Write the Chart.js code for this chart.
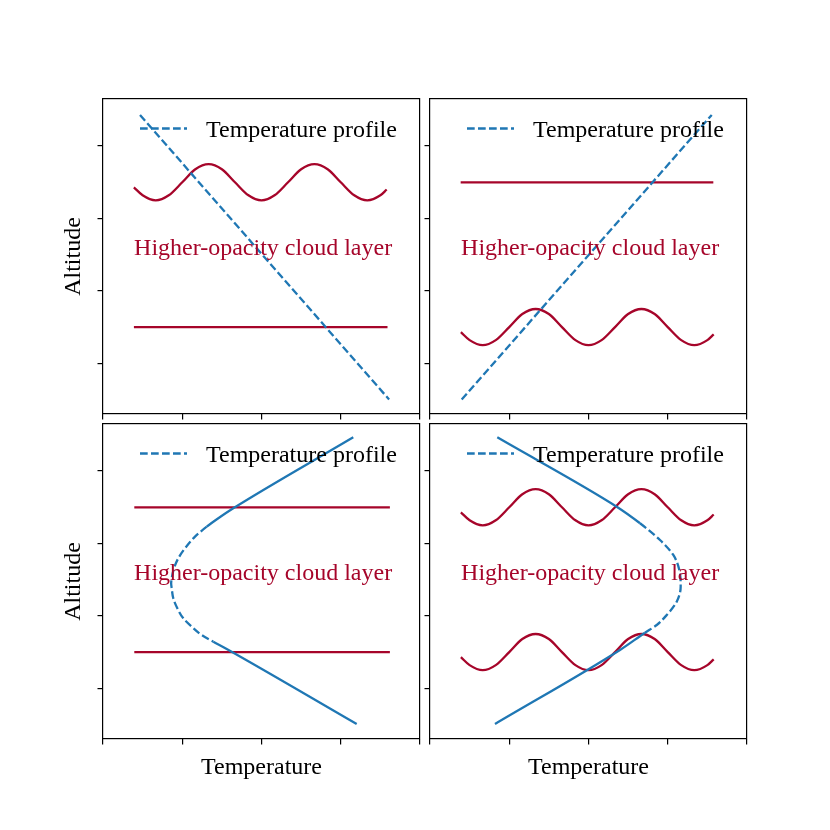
<!DOCTYPE html>
<html><head><meta charset="utf-8">
<script src="https://cdn.jsdelivr.net/npm/chart.js@4.4.1/dist/chart.umd.min.js"></script>
<style>
html,body{margin:0;padding:0;background:#fff;}
#wrap{position:relative;width:830px;height:830px;background:#fff;}
canvas{position:absolute;left:0;top:0;}
</style></head><body><div id="wrap">
<canvas id="c1" width="830" height="830"></canvas>
<canvas id="c2" width="830" height="830"></canvas>
<canvas id="c3" width="830" height="830"></canvas>
<canvas id="c4" width="830" height="830"></canvas>
</div>
<script>
// ---- data ----
const xTicks = [0, 1, 2, 3, 4];
const yTicks = [1, 2, 3, 4];
const xRange = [0, 4];
const yRange = [0.3, 4.65];

const cloudWaveX = [0.39, 0.50, 0.665, 0.83, 1.00, 1.165, 1.333, 1.50, 1.665, 1.835, 2.00, 2.165, 2.335, 2.50, 2.668, 2.835, 3.00, 3.17, 3.335, 3.50, 3.58];
const waveHighY  = [3.43, 3.32, 3.25, 3.32, 3.50, 3.68, 3.75, 3.68, 3.50, 3.32, 3.25, 3.32, 3.50, 3.68, 3.75, 3.68, 3.50, 3.32, 3.25, 3.32, 3.40];
const waveLowY   = [1.43, 1.32, 1.25, 1.32, 1.50, 1.68, 1.75, 1.68, 1.50, 1.32, 1.25, 1.32, 1.50, 1.68, 1.75, 1.68, 1.50, 1.32, 1.25, 1.32, 1.40];

const p1FlatX = [0.39, 3.59];   const p1FlatY = [1.5, 1.5];
const p2FlatX = [0.387, 3.575]; const p2FlatY = [3.5, 3.5];
const p3FlatX = [0.395, 3.62];  const p3FlatHighY = [3.5, 3.5]; const p3FlatLowY = [1.5, 1.5];

const p1ProfX = [0.467, 3.61]; const p1ProfY = [4.43, 0.50];
const p2ProfX = [0.40, 3.555]; const p2ProfY = [0.50, 4.43];
const p3ProfX = [3.158, 1.644, 1.455, 1.309, 1.161, 1.035, 0.950, 0.896, 0.867, 0.860, 0.867, 0.887, 0.938, 1.013, 1.119, 1.245, 1.392, 1.561, 3.201];
const p3ProfY = [4.466, 3.486, 3.348, 3.232, 3.094, 2.934, 2.796, 2.657, 2.519, 2.450, 2.381, 2.243, 2.105, 1.967, 1.851, 1.736, 1.644, 1.543, 0.507];
const p3Core = [1.64, 3.24];   // altitude span drawn dashed
const p4ProfX = [0.849, 2.356, 2.650, 2.902, 3.070, 3.146, 3.163, 3.113, 2.987, 2.861, 2.713, 2.397, 0.820];
const p4ProfY = [4.466, 3.508, 3.279, 3.048, 2.841, 2.634, 2.403, 2.196, 2.012, 1.874, 1.768, 1.529, 0.507];
const p4Core = [1.76, 3.28];

const cloudLabel = 'Higher-opacity cloud layer';
const cloudLabelPos = [2.02, 2.5];
const profileLabel = 'Temperature profile';

// ---- styles ----
const FONT = '"Liberation Serif", "Times New Roman", serif';
const RED = '#a6052a';
const BLUE = '#1f77b4';
const DASH = [7.7, 3.3];
const LW = 2.3;
Chart.defaults.font.family = FONT;

const pts = (xs, ys) => xs.map((x, i) => ({x: x, y: ys[i]}));

function redSet(xs, ys, wave) {
  return {data: pts(xs, ys), borderColor: RED, borderWidth: LW, pointRadius: 0,
    cubicInterpolationMode: wave ? 'monotone' : 'default', tension: 0};
}
function profSet(xs, ys, core) {
  const ds = {label: profileLabel, isProfile: true, data: pts(xs, ys), borderColor: BLUE,
    borderWidth: LW, pointRadius: 0, borderCapStyle: 'butt'};
  if (!core) { ds.borderDash = DASH; ds.tension = 0; }
  else {
    ds.indexAxis = 'y';
    ds.cubicInterpolationMode = 'monotone';
    ds.segment = {borderDash: c => {
      const a = c.p0.parsed.y, b = c.p1.parsed.y;
      return (Math.min(a, b) >= core[0] - 1e-6 && Math.max(a, b) <= core[1] + 1e-6) ? DASH : undefined;
    }};
  }
  return ds;
}

const align = (p, w) => Math.round(p - w / 2) + w / 2;

const decor = {
  id: 'panelDecor',
  afterDatasetsDraw(chart) {
    const {ctx, chartArea: a, scales: {x, y}} = chart;
    ctx.save();
    ctx.font = '24px ' + FONT;
    ctx.fillStyle = RED; ctx.textAlign = 'center'; ctx.textBaseline = 'alphabetic';
    ctx.fillText(cloudLabel, x.getPixelForValue(cloudLabelPos[0]), y.getPixelForValue(cloudLabelPos[1]));
    const prof = chart.data.datasets.find(d => d.isProfile);
    ctx.strokeStyle = prof.borderColor; ctx.lineWidth = prof.borderWidth; ctx.setLineDash(DASH);
    ctx.beginPath(); ctx.moveTo(a.left + 37, a.top + 29.5); ctx.lineTo(a.left + 84, a.top + 29.5); ctx.stroke();
    ctx.setLineDash([]);
    ctx.fillStyle = '#000'; ctx.textAlign = 'left';
    ctx.fillText(prof.label, a.left + 103, a.top + 37.5);
    const fw = 1.2;
    ctx.strokeStyle = '#000'; ctx.lineWidth = fw;
    const l = align(a.left, fw), r = align(a.right, fw), t = align(a.top, fw), b = align(a.bottom, fw);
    ctx.strokeRect(l, t, r - l, b - t);
    ctx.restore();
  }
};

function makeChart(id, box, datasets, yTitle, xTitle) {
  const yW = yTitle ? box.l - 55 : 10;
  const xH = xTitle ? 47 : 10;
  const axisCommon = {
    type: 'linear',
    ticks: {display: false},
    grid: {drawOnChartArea: false, drawTicks: true, tickLength: 5.5, color: '#000', lineWidth: 1.2},
    border: {display: false}
  };
  return new Chart(document.getElementById(id), {
    type: 'line',
    data: {datasets: datasets},
    options: {
      responsive: false, animation: false, events: [],
      layout: {autoPadding: false, padding: {left: box.l - yW, top: box.t, right: 830 - box.r, bottom: 830 - box.b - xH}},
      plugins: {legend: {display: false}, tooltip: {enabled: false}},
      scales: {
        x: Object.assign({}, axisCommon, {
          min: xRange[0], max: xRange[1],
          afterBuildTicks: s => { s.ticks = xTicks.map(v => ({value: v})); },
          afterFit: s => { s.height = xH; },
          title: {display: xTitle, text: 'Temperature', color: '#000', font: {family: FONT, size: 24}, padding: {top: 4, bottom: 4}}
        }),
        y: Object.assign({}, axisCommon, {
          min: yRange[0], max: yRange[1],
          afterBuildTicks: s => { s.ticks = yTicks.map(v => ({value: v})); },
          afterFit: s => { s.width = yW; },
          title: {display: yTitle, text: 'Altitude', color: '#000', font: {family: FONT, size: 24}, padding: {top: 4, bottom: 4}}
        })
      }
    },
    plugins: [decor]
  });
}

const B1 = {l: 103, t: 99, r: 420, b: 414};
const B2 = {l: 430, t: 99, r: 747, b: 414};
const B3 = {l: 103, t: 424, r: 420, b: 739};
const B4 = {l: 430, t: 424, r: 747, b: 739};

makeChart('c1', B1, [profSet(p1ProfX, p1ProfY, null), redSet(cloudWaveX, waveHighY, true), redSet(p1FlatX, p1FlatY, false)], true, false);
makeChart('c2', B2, [profSet(p2ProfX, p2ProfY, null), redSet(p2FlatX, p2FlatY, false), redSet(cloudWaveX, waveLowY, true)], false, false);
makeChart('c3', B3, [profSet(p3ProfX, p3ProfY, p3Core), redSet(p3FlatX, p3FlatHighY, false), redSet(p3FlatX, p3FlatLowY, false)], true, true);
makeChart('c4', B4, [profSet(p4ProfX, p4ProfY, p4Core), redSet(cloudWaveX, waveHighY, true), redSet(cloudWaveX, waveLowY, true)], false, true);
</script>
</body></html>
